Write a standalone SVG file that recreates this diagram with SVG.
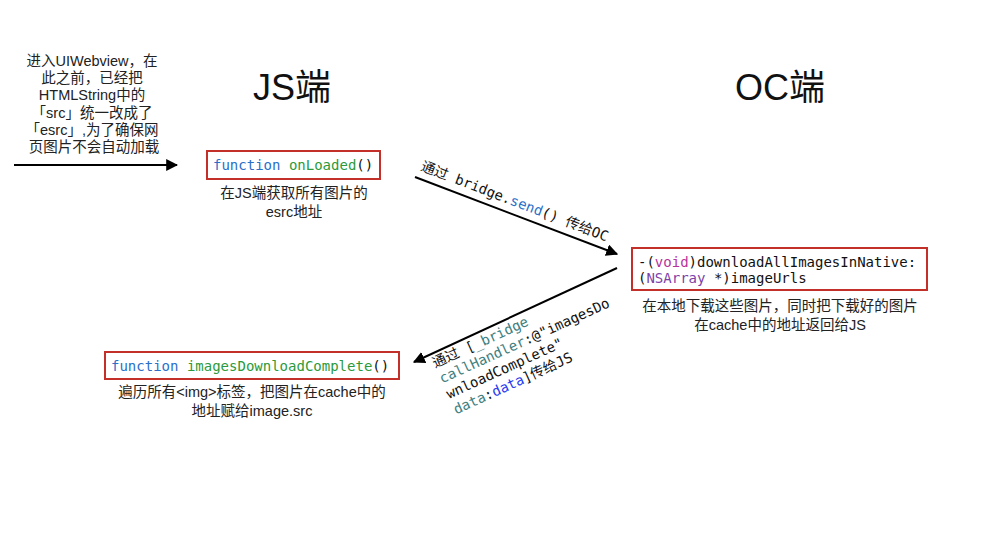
<svg xmlns="http://www.w3.org/2000/svg" width="984" height="543" viewBox="0 0 984 543">
<defs>
<marker id="ah" viewBox="0 0 10 10" refX="9" refY="5" markerWidth="6" markerHeight="6" markerUnits="strokeWidth" orient="auto">
<path d="M0,0 L10,5 L0,10 Z" fill="#000"/>
</marker>
<style>
.t{font-family:"Liberation Sans","Noto Sans CJK SC",sans-serif;font-size:14.5px;fill:#222;}
.h{font-family:"Liberation Sans","Noto Sans CJK SC",sans-serif;font-size:36px;fill:#111;}
.m{font-family:"DejaVu Sans Mono","Noto Sans CJK SC",monospace;font-size:14px;fill:#111;}
.box{fill:#fff;stroke:#c3302a;stroke-width:2;}
.kw{fill:#2a6fc9;}
.fn{fill:#2c9a3c;}
.vd{fill:#b8329c;}
.ns{fill:#7b3fa8;}
.tl{fill:#3f8080;}
.bl{fill:#2a3cf0;}
.ln{stroke:#000;stroke-width:2;fill:none;}
</style>
</defs>
<rect width="984" height="543" fill="#fff"/>

<g id="intro">
<text class="t" text-anchor="middle">
<tspan x="94" y="66">进入UIWebview，在</tspan>
<tspan x="94" y="83">此之前，已经把</tspan>
<tspan x="94" y="100">HTMLString中的</tspan>
<tspan x="94" y="118">「src」统一改成了</tspan>
<tspan x="94" y="135">「esrc」,为了确保网</tspan>
<tspan x="94" y="152">页图片不会自动加载</tspan>
</text>
</g>

<g id="title-js"><text class="h" x="292" y="100" text-anchor="middle">JS端</text></g>
<g id="title-oc"><text class="h" x="780" y="100" text-anchor="middle">OC端</text></g>

<g id="onLoaded">
<rect class="box" x="207" y="151" width="173" height="28"/>
<text class="m" x="213" y="170"><tspan class="kw">function</tspan> <tspan class="fn">onLoaded</tspan>()</text>
<text class="t" text-anchor="middle"><tspan x="294" y="198">在JS端获取所有图片的</tspan><tspan x="294" y="217">esrc地址</tspan></text>
</g>

<g id="download">
<rect class="box" x="632" y="248" width="295" height="42"/>
<text class="m"><tspan x="638" y="267">-(<tspan class="vd">void</tspan>)downloadAllImagesInNative:</tspan><tspan x="638" y="283">(<tspan class="ns">NSArray</tspan> *)imageUrls</tspan></text>
<text class="t" text-anchor="middle"><tspan x="780" y="311">在本地下载这些图片，同时把下载好的图片</tspan><tspan x="780" y="330">在cache中的地址返回给JS</tspan></text>
</g>

<g id="complete">
<rect class="box" x="105" y="352" width="294" height="27"/>
<text class="m" x="111" y="371"><tspan class="kw">function</tspan> <tspan class="fn">imagesDownloadComplete</tspan>()</text>
<text class="t" text-anchor="middle"><tspan x="252" y="397">遍历所有&lt;img&gt;标签，把图片在cache中的</tspan><tspan x="252" y="416">地址赋给image.src</tspan></text>
</g>

<g id="connectors">
<line class="ln" x1="14" y1="165" x2="177" y2="165" marker-end="url(#ah)"/>
<line class="ln" x1="415" y1="177" x2="617" y2="254" marker-end="url(#ah)"/>
<line class="ln" x1="617" y1="268" x2="414" y2="362" marker-end="url(#ah)"/>
<text class="m" transform="translate(420,170) rotate(21)">通过 bridge.<tspan class="kw">send</tspan>() 传给OC</text>
<text class="m" transform="translate(435,368) rotate(-24.5)"><tspan x="0" y="0">通过 [<tspan class="tl">_bridge</tspan></tspan><tspan x="0" y="17"><tspan class="tl">callHandler</tspan>:@"imagesDo</tspan><tspan x="0" y="34">wnloadComplete"</tspan><tspan x="0" y="51"><tspan class="tl">data</tspan>:<tspan class="bl">data</tspan>]传给JS</tspan></text>
</g>
</svg>
